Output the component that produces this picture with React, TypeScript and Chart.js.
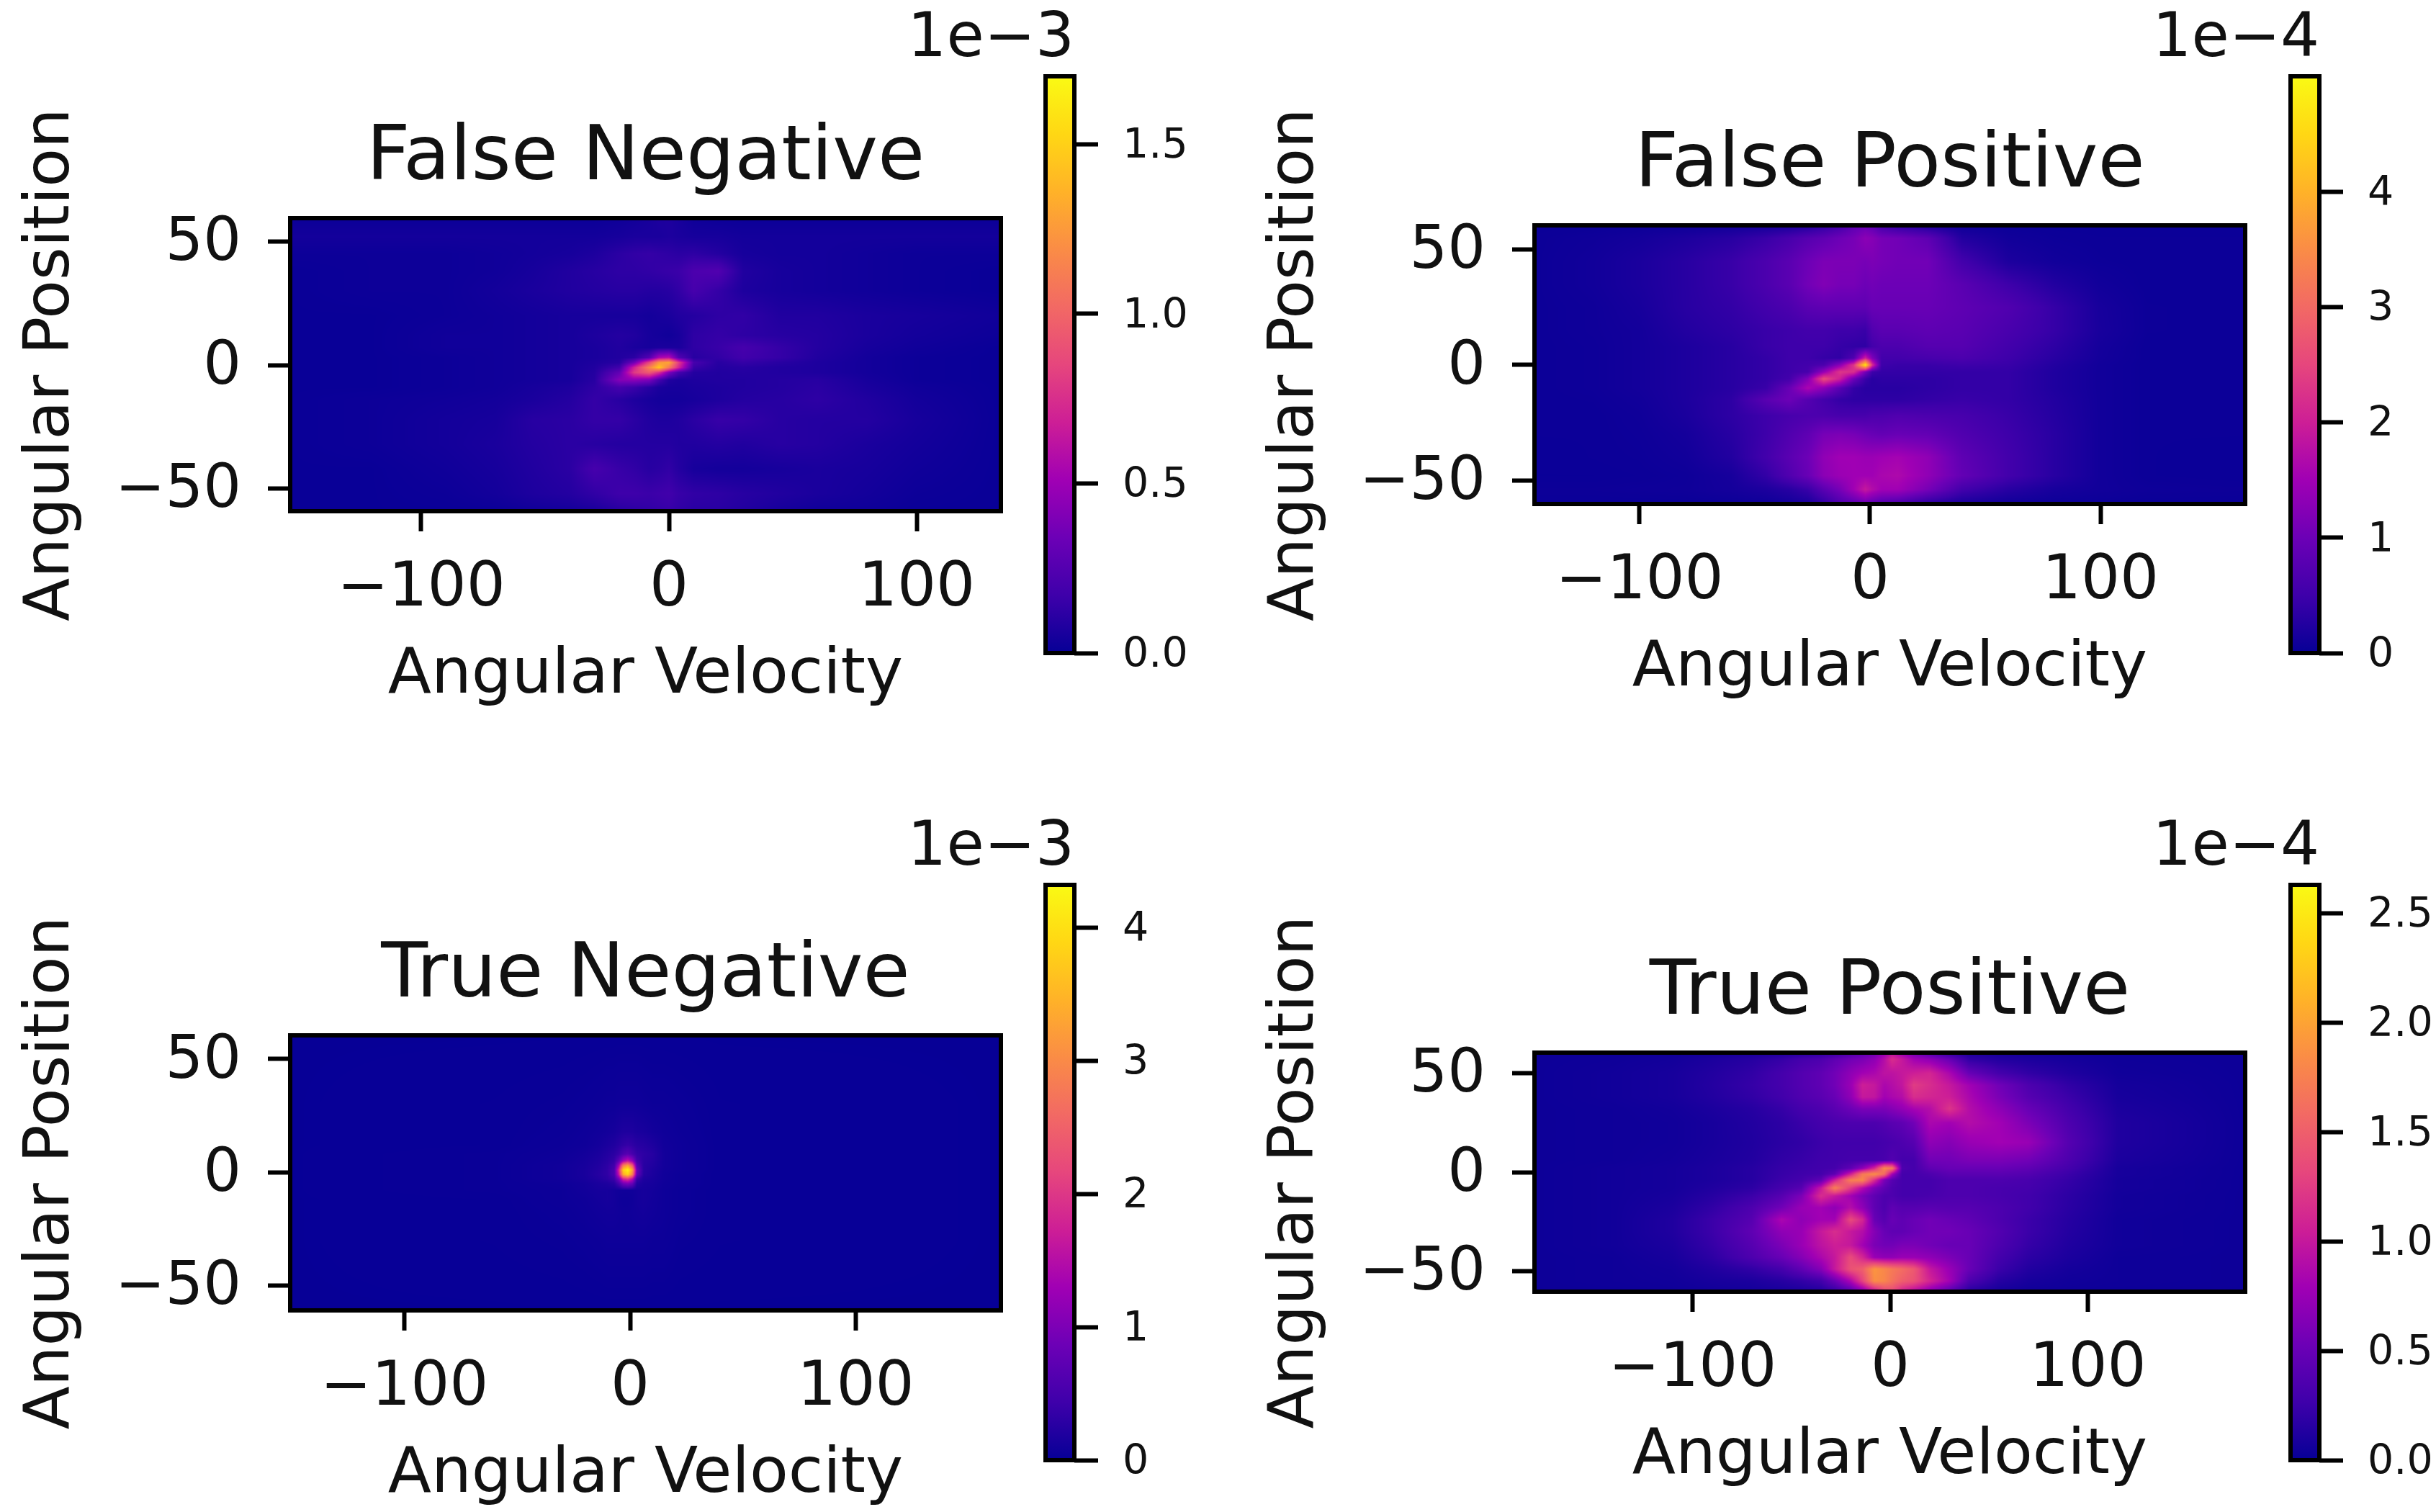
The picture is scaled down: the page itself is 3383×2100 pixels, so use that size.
import React, { useEffect, useRef } from "react";
import { Chart, registerables } from "chart.js";

Chart.register(...registerables);

const FONT = "DejaVu Sans";
const INK = "#111111";

// ---------- Colour scale stops (0..1 position, r, g, b) ----------
const COLOR_STOPS: number[][] = [
  [0.0, 6, 0, 150],
  [0.1, 62, 0, 170],
  [0.2, 108, 0, 182],
  [0.3, 160, 0, 180],
  [0.4, 205, 30, 150],
  [0.5, 230, 70, 125],
  [0.6, 242, 105, 100],
  [0.7, 250, 140, 70],
  [0.8, 255, 178, 40],
  [0.9, 255, 215, 20],
  [1.0, 250, 250, 20],
];

// ---------- False Negative (units of 1e-3) ----------
const fnX = [-154, -120, -90, -70, -55, -40, -30, -20, -14, -8, -4, 0, 4, 10, 20, 30, 45, 60, 80, 100, 135];
const fnY = [61, 52, 45, 38, 30, 20, 12, 7, 3, 1, -1, -3, -6, -9, -14, -22, -32, -42, -52, -61];
const fnValues = [
  [.01, .01, .01, .01, .01, .01, .01, .02, .03, .05, .07, .07, .05, .02, .01, .01, .01, .01, .01, .01, .01],
  [.04, .04, .04, .04, .04, .04, .04, .05, .06, .06, .06, .07, .06, .05, .05, .04, .04, .04, .04, .04, .04],
  [.02, .02, .02, .03, .04, .05, .07, .11, .13, .14, .13, .12, .11, .12, .09, .05, .04, .04, .03, .02, .02],
  [.01, .02, .02, .03, .05, .08, .1, .12, .12, .13, .14, .15, .16, .22, .24, .08, .05, .04, .03, .02, .01],
  [.01, .02, .02, .04, .06, .08, .09, .1, .1, .09, .09, .1, .13, .2, .14, .07, .05, .04, .03, .02, .01],
  [.01, .01, .02, .03, .04, .05, .05, .05, .05, .04, .05, .06, .08, .09, .12, .13, .08, .08, .06, .05, .03],
  [.01, .01, .03, .03, .04, .05, .07, .09, .08, .05, .04, .03, .05, .12, .14, .12, .1, .09, .06, .04, .02],
  [.01, .01, .03, .03, .04, .05, .06, .08, .06, .05, .06, .06, .06, .12, .15, .2, .14, .09, .05, .03, .01],
  [.01, .01, .02, .03, .04, .05, .06, .08, .11, .25, .55, .6, .25, .1, .13, .18, .14, .08, .04, .02, .01],
  [.01, .01, .02, .03, .04, .05, .07, .1, .35, .85, 1.25, 1.3, .8, .2, .1, .14, .1, .07, .04, .02, .01],
  [.01, .01, .02, .03, .04, .05, .08, .18, .7, 1.15, 1.45, 1.1, .7, .15, .09, .1, .08, .07, .04, .02, .01],
  [.01, .01, .02, .03, .04, .05, .09, .3, .8, .95, .75, .4, .2, .09, .08, .09, .08, .07, .04, .02, .01],
  [.01, .01, .02, .03, .04, .05, .1, .42, .45, .4, .2, .08, .06, .07, .08, .08, .09, .1, .05, .02, .01],
  [.01, .01, .02, .03, .05, .07, .12, .2, .16, .1, .06, .05, .05, .06, .07, .08, .09, .11, .06, .03, .01],
  [.01, .02, .03, .04, .06, .09, .14, .1, .07, .05, .04, .04, .04, .05, .07, .09, .1, .12, .08, .04, .01],
  [.01, .02, .04, .05, .1, .11, .14, .14, .11, .08, .07, .07, .08, .11, .15, .14, .1, .09, .09, .05, .01],
  [.01, .02, .04, .06, .09, .11, .1, .09, .09, .09, .09, .09, .08, .08, .09, .08, .1, .09, .06, .04, .01],
  [.01, .01, .03, .05, .08, .11, .2, .15, .13, .1, .11, .13, .09, .05, .04, .04, .05, .06, .05, .03, .01],
  [.01, .01, .02, .04, .07, .09, .13, .17, .17, .16, .17, .18, .15, .13, .12, .1, .08, .06, .04, .02, .01],
  [.01, .01, .01, .01, .02, .03, .04, .08, .1, .12, .13, .14, .12, .1, .1, .08, .04, .02, .02, .01, .01],
];
const fnMax = 1.7;
const fnBarTicks = [0, 0.5, 1, 1.5];

// ---------- False Positive (units of 1e-4) ----------
const fpX = [-147, -120, -100, -80, -60, -45, -35, -27, -20, -13, -7, -2, 1, 5, 12, 25, 40, 60, 80, 100, 120, 164];
const fpY = [61, 55, 45, 35, 25, 15, 8, 3, 0, -3, -6, -10, -15, -22, -30, -40, -48, -54, -61];
const fpValues = [
  [.04, .04, .05, .05, .06, .08, .1, .15, .3, .5, .8, .9, .8, .5, .3, .12, .05, .04, .04, .04, .04, .04],
  [.05, .08, .12, .2, .3, .45, .6, .75, .85, 1.0, 1.1, 1.3, 1.25, 1.1, 1.05, .85, .25, .1, .06, .05, .05, .05],
  [.05, .1, .18, .3, .45, .65, .8, 1.0, 1.15, 1.15, 1.15, 1.1, 1.15, 1.1, 1.05, 1.05, .55, .2, .1, .06, .05, .05],
  [.05, .1, .18, .3, .45, .65, .8, 1.05, 1.2, 1.1, 1.1, 1.0, 1.05, 1.0, 1.0, 1.0, .8, .5, .25, .1, .05, .05],
  [.05, .08, .15, .3, .4, .55, .65, .8, .85, .85, .85, .85, .95, .95, .95, .95, .85, .7, .42, .15, .06, .05],
  [.05, .08, .12, .25, .35, .45, .5, .55, .55, .5, .5, .45, .7, .8, .8, .85, .8, .62, .42, .16, .06, .05],
  [.05, .07, .12, .2, .3, .45, .5, .5, .5, .42, .38, .36, .55, .65, .65, .75, .75, .55, .35, .13, .05, .05],
  [.05, .07, .12, .2, .3, .4, .5, .5, .42, .38, .7, 2.0, 1.2, .55, .55, .6, .65, .5, .3, .12, .05, .05],
  [.05, .07, .12, .2, .3, .4, .5, .55, .65, 1.3, 2.3, 4.7, 2.2, .5, .45, .45, .5, .45, .25, .1, .05, .05],
  [.05, .07, .12, .2, .3, .4, .5, .6, 1.4, 2.3, 2.2, 1.1, .5, .4, .4, .4, .4, .4, .22, .1, .05, .05],
  [.05, .07, .12, .2, .3, .4, .55, 1.2, 2.6, 2.0, 1.0, .45, .3, .35, .35, .35, .4, .4, .22, .1, .05, .05],
  [.05, .07, .12, .2, .3, .45, .95, 1.6, 1.3, .8, .4, .3, .3, .3, .3, .35, .4, .4, .22, .1, .05, .05],
  [.05, .06, .1, .2, .35, .8, 1.0, .75, .55, .4, .35, .35, .35, .35, .35, .4, .45, .4, .25, .1, .05, .05],
  [.05, .05, .08, .18, .35, .5, .6, .65, .65, .6, .6, .6, .65, .65, .7, .65, .6, .45, .27, .1, .05, .05],
  [.05, .05, .07, .13, .3, .5, .7, .85, 1.1, 1.15, 1.1, 1.0, .95, .9, .95, .9, .7, .5, .3, .1, .05, .05],
  [.04, .05, .06, .1, .25, .55, .8, 1.0, 1.35, 1.5, 1.5, 1.45, 1.45, 1.5, 1.55, 1.35, .85, .55, .3, .1, .05, .04],
  [.04, .04, .05, .07, .15, .4, .7, .95, 1.3, 1.45, 1.5, 1.5, 1.5, 1.6, 1.65, 1.35, .9, .55, .3, .1, .05, .04],
  [.06, .06, .07, .08, .13, .2, .3, .45, .8, 1.1, 1.5, 1.9, 1.7, 1.5, 1.5, 1.1, .55, .3, .15, .1, .07, .06],
  [.03, .03, .03, .03, .04, .05, .08, .12, .3, .6, .7, .8, .7, .6, .5, .2, .1, .05, .04, .04, .03, .03],
];
const fpMax = 5.0;
const fpBarTicks = [0, 1, 2, 3, 4];

// ---------- True Negative (units of 1e-3) ----------
const tnX = [-152, -60, -30, -20, -14, -10, -7, -5, -3, -1, 1, 3, 6, 10, 15, 22, 40, 165];
const tnY = [61, 30, 18, 12, 8, 5, 3, 1, -1, -3, -5, -8, -12, -18, -30, -62];
const tnValues = [
  [.01, .01, .01, .01, .01, .01, .01, .01, .01, .01, .01, .01, .01, .01, .01, .01, .01, .01],
  [.01, .02, .03, .04, .05, .06, .06, .07, .07, .07, .07, .07, .06, .05, .05, .04, .02, .01],
  [.01, .02, .04, .06, .08, .1, .12, .15, .18, .18, .18, .15, .14, .1, .07, .05, .02, .01],
  [.01, .02, .05, .07, .11, .16, .2, .26, .32, .36, .32, .26, .24, .18, .09, .06, .02, .01],
  [.01, .03, .06, .1, .15, .22, .28, .38, .58, .68, .52, .36, .3, .24, .1, .06, .02, .01],
  [.01, .03, .07, .12, .18, .26, .36, .72, 1.3, 1.6, 1.2, .48, .28, .22, .1, .06, .02, .01],
  [.01, .03, .08, .13, .2, .3, .46, 1.3, 2.8, 3.2, 2.4, .68, .26, .2, .1, .06, .02, .01],
  [.01, .03, .08, .14, .22, .32, .54, 1.8, 3.8, 4.25, 3.3, .88, .26, .17, .09, .06, .02, .01],
  [.01, .03, .08, .14, .24, .32, .54, 1.6, 3.4, 3.8, 2.9, .78, .24, .16, .08, .05, .02, .01],
  [.01, .03, .08, .13, .2, .28, .4, .9, 1.8, 2.0, 1.5, .38, .18, .14, .08, .05, .02, .01],
  [.01, .03, .06, .1, .15, .18, .24, .5, .9, 1.0, .8, .22, .14, .12, .07, .05, .02, .01],
  [.01, .03, .05, .09, .12, .12, .1, .08, .08, .08, .08, .1, .12, .1, .06, .04, .02, .01],
  [.01, .02, .05, .07, .1, .12, .1, .07, .06, .06, .07, .1, .12, .09, .06, .04, .02, .01],
  [.01, .02, .04, .06, .08, .09, .09, .08, .07, .07, .08, .09, .1, .08, .06, .04, .02, .01],
  [.01, .02, .03, .04, .05, .06, .06, .06, .06, .06, .06, .06, .06, .05, .05, .03, .02, .01],
  [.01, .01, .01, .01, .01, .01, .01, .01, .01, .01, .01, .01, .01, .01, .01, .01, .01, .01],
];
const tnMax = 4.32;
const tnBarTicks = [0, 1, 2, 3, 4];

// ---------- True Positive (units of 1e-4) ----------
const tpX = [-181, -140, -110, -90, -70, -55, -45, -35, -28, -20, -14, -8, -3, 1, 6, 12, 20, 30, 40, 55, 70, 90, 115, 181];
const tpY = [61, 57, 50, 44, 38, 32, 25, 15, 6, 2, -1, -4, -8, -12, -18, -24, -30, -37, -43, -49, -55, -61];
const tpValues = [
  [.03, .03, .04, .05, .07, .08, .1, .13, .18, .3, .4, .5, .7, .9, .7, .5, .3, .12, .08, .06, .05, .04, .03, .03],
  [.03, .04, .06, .1, .15, .22, .3, .35, .45, .55, .6, .7, .9, 1.15, 1.0, .8, .7, .5, .2, .13, .1, .07, .04, .03],
  [.03, .05, .08, .13, .2, .3, .38, .45, .55, .7, .8, .85, .95, .95, 1.0, 1.05, 1.1, .85, .5, .3, .2, .12, .05, .03],
  [.03, .05, .08, .14, .22, .3, .38, .45, .55, .75, 1.05, 1.0, .85, .9, .98, 1.25, 1.15, 1.0, .8, .55, .35, .2, .07, .03],
  [.03, .05, .08, .13, .2, .28, .36, .42, .5, .7, 1.0, .98, .8, .85, .9, 1.15, 1.1, 1.05, .85, .6, .4, .25, .08, .03],
  [.03, .04, .06, .1, .15, .22, .3, .35, .42, .52, .6, .6, .6, .65, .72, .82, .9, 1.2, .9, .7, .5, .3, .1, .03],
  [.03, .04, .05, .08, .13, .18, .24, .3, .33, .35, .35, .35, .38, .42, .45, .55, .85, .8, .9, .8, .6, .35, .12, .03],
  [.03, .04, .05, .08, .12, .17, .2, .25, .28, .28, .28, .28, .3, .32, .35, .4, .7, .65, .75, .8, .75, .4, .12, .03],
  [.03, .04, .06, .09, .13, .2, .23, .27, .28, .3, .3, .3, .32, .38, .3, .3, .55, .55, .6, .6, .55, .35, .1, .03],
  [.03, .05, .07, .1, .15, .22, .25, .28, .3, .45, .7, 1.1, 1.8, 1.7, .35, .3, .45, .5, .5, .5, .45, .3, .08, .03],
  [.03, .05, .07, .1, .15, .23, .27, .3, .45, 1.05, 1.7, 1.85, 1.6, .8, .3, .3, .35, .42, .42, .42, .38, .25, .08, .03],
  [.03, .05, .07, .1, .15, .25, .3, .45, 1.05, 1.75, 1.8, 1.15, .6, .4, .3, .3, .3, .35, .35, .35, .32, .22, .07, .03],
  [.03, .05, .07, .12, .18, .3, .4, 1.0, 1.75, 1.25, .9, .6, .45, .35, .3, .3, .3, .35, .35, .32, .3, .2, .07, .03],
  [.03, .05, .08, .15, .25, .4, .6, 1.15, 1.0, .8, .6, .45, .35, .35, .3, .3, .32, .35, .35, .32, .28, .18, .06, .03],
  [.03, .05, .1, .2, .35, .55, .75, .8, .7, .9, .7, .45, .35, .45, .4, .4, .42, .4, .4, .35, .28, .17, .06, .03],
  [.03, .05, .12, .25, .4, .85, .7, .8, .8, 1.35, 1.1, .5, .4, .5, .45, .5, .55, .5, .45, .35, .25, .15, .05, .03],
  [.03, .05, .12, .25, .45, .7, .75, 1.0, 1.15, 1.0, .9, .65, .5, .45, .45, .5, .55, .55, .5, .38, .25, .14, .05, .03],
  [.03, .05, .1, .22, .4, .6, .75, .95, 1.05, 1.0, .8, .6, .55, .55, .6, .6, .55, .5, .5, .35, .22, .12, .05, .03],
  [.03, .04, .08, .18, .35, .5, .65, .85, 1.0, 1.35, 1.1, .75, .7, .7, .75, .75, .7, .6, .5, .3, .18, .1, .04, .03],
  [.03, .04, .06, .12, .2, .3, .45, .65, 1.0, 1.4, 1.5, 1.9, 1.8, 1.7, 1.6, 1.45, 1.0, .75, .5, .25, .13, .07, .04, .03],
  [.03, .04, .05, .08, .1, .15, .2, .28, .5, .85, 1.3, 1.85, 1.8, 1.65, 1.5, 1.4, 1.1, .8, .35, .15, .08, .05, .04, .03],
  [.03, .03, .04, .05, .06, .07, .08, .1, .15, .3, .5, .8, 1.2, 1.3, 1.0, .8, .6, .35, .12, .06, .04, .04, .03, .03],
];
const tpMax = 2.63;
const tpBarTicks = [0, 0.5, 1, 1.5, 2, 2.5];

const xTickValues = [-100, 0, 100];
const yTickValues = [-50, 0, 50];

// ---------- Layout (pixels) ----------
const PANELS = [
  { title: "False Negative", offset: "1e\u22123", xs: fnX, ys: fnY, values: fnValues, max: fnMax, barTicks: fnBarTicks, decimals: 1,
    xRange: [-152.9, 134], yRange: [-59.1, 59.4], box: [403, 1390, 303, 710], bar: [1452, 1492, 106, 907] },
  { title: "False Positive", offset: "1e\u22124", xs: fpX, ys: fpY, values: fpValues, max: fpMax, barTicks: fpBarTicks, decimals: 0,
    xRange: [-145.6, 162.8], yRange: [-60.3, 60.6], box: [2131, 3118, 313, 700], bar: [3181, 3221, 106, 907] },
  { title: "True Negative", offset: "1e\u22123", xs: tnX, ys: tnY, values: tnValues, max: tnMax, barTicks: tnBarTicks, decimals: 0,
    xRange: [-150.6, 164.3], yRange: [-61.1, 60.5], box: [403, 1390, 1438, 1820], bar: [1452, 1492, 1229, 2028] },
  { title: "True Positive", offset: "1e\u22124", xs: tpX, ys: tpY, values: tpValues, max: tpMax, barTicks: tpBarTicks, decimals: 1,
    xRange: [-180, 179.6], yRange: [-60.4, 60.4], box: [2131, 3118, 1462, 1794], bar: [3181, 3221, 1229, 2028] },
];

const LEFT_GUTTER = 403;
const BOTTOM_GUTTER = 282;
const TITLE_BLOCK = 145;
const EXTRA_TOP = 140;
const RIGHT_PAD = 30;
const LINE = 6;

function lut(t: number): number[] {
  const c = Math.max(0, Math.min(1, t));
  for (let i = 1; i < COLOR_STOPS.length; i++) {
    if (c <= COLOR_STOPS[i][0]) {
      const a = COLOR_STOPS[i - 1];
      const b = COLOR_STOPS[i];
      const f = (c - a[0]) / (b[0] - a[0]);
      return [a[1] + (b[1] - a[1]) * f, a[2] + (b[2] - a[2]) * f, a[3] + (b[3] - a[3]) * f];
    }
  }
  return COLOR_STOPS[COLOR_STOPS.length - 1].slice(1);
}

const signed = (v: number) => String(v).replace("-", "\u2212");

const framePlugin = {
  id: "frame",
  afterDraw(chart: any) {
    const { ctx, chartArea: a } = chart;
    ctx.save();
    ctx.strokeStyle = "#000";
    ctx.lineWidth = LINE;
    ctx.strokeRect(a.left, a.top, a.right - a.left, a.bottom - a.top);
    ctx.restore();
  },
};

// Moves the y axis tick labels a few pixels down, so the digits sit centred on their ticks.
const labelNudgePlugin = {
  id: "labelNudge",
  beforeDraw(chart: any) {
    chart.scales.y.getLabelItems().forEach((item: any) => {
      if (!item.nudged) {
        item.textOffset += 4;
        item.nudged = true;
      }
    });
  },
};

// Paints the dataset's cells, placed by the chart's x and y scales, blending between cell centres.
function heatmapPlugin(xs: number[], ys: number[], values: number[][], max: number) {
  const locate = (v: number, arr: number[]) => {
    let i = 0;
    while (i < arr.length - 2 && v > arr[i + 1]) i++;
    const f = (v - arr[i]) / (arr[i + 1] - arr[i]);
    return [i, Math.max(0, Math.min(1, f))];
  };
  const yAsc = ys.slice().reverse();
  return {
    id: "heatmap",
    beforeDatasetsDraw(chart: any) {
      const { ctx, chartArea: a, scales } = chart;
      const left = Math.floor(a.left);
      const top = Math.floor(a.top);
      const w = Math.ceil(a.right) - left;
      const h = Math.ceil(a.bottom) - top;
      const off = document.createElement("canvas");
      off.width = w;
      off.height = h;
      const octx = off.getContext("2d")!;
      const img = octx.createImageData(w, h);
      const colPos = [];
      for (let px = 0; px < w; px++) colPos.push(locate(scales.x.getValueForPixel(left + px + 0.5), xs));
      const rowPos = [];
      for (let py = 0; py < h; py++) {
        const [i, f] = locate(scales.y.getValueForPixel(top + py + 0.5), yAsc);
        rowPos.push([ys.length - 1 - i, f]);
      }
      let k = 0;
      for (let py = 0; py < h; py++) {
        const [r0, fy] = rowPos[py];
        const low = values[r0];
        const high = values[r0 - 1];
        for (let px = 0; px < w; px++) {
          const [c, fx] = colPos[px];
          const vLow = low[c] + (low[c + 1] - low[c]) * fx;
          const vHigh = high[c] + (high[c + 1] - high[c]) * fx;
          const rgb = lut((vLow + (vHigh - vLow) * fy) / max);
          img.data[k++] = rgb[0];
          img.data[k++] = rgb[1];
          img.data[k++] = rgb[2];
          img.data[k++] = 255;
        }
      }
      octx.putImageData(img, 0, 0);
      ctx.drawImage(off, left, top);
    },
  };
}

// The colour bar's scale-offset text sits above the bar, ending at its right edge.
const offsetTextPlugin = {
  id: "offsetText",
  afterDraw(chart: any, _args: any, opts: any) {
    const { ctx, chartArea: a } = chart;
    ctx.save();
    ctx.fillStyle = INK;
    ctx.font = `85px "${FONT}"`;
    ctx.textAlign = "right";
    ctx.textBaseline = "middle";
    ctx.fillText(opts.text, a.right, a.top - 50);
    ctx.restore();
  },
};

function tickSetup(length: number) {
  return { display: true, drawOnChartArea: false, drawTicks: true, tickLength: length, tickWidth: LINE, tickColor: "#000" };
}

function HeatPanel({ p }: { p: (typeof PANELS)[number] }) {
  const ref = useRef<HTMLCanvasElement>(null);
  const [L, R, T, B] = p.box;
  const left = L - LEFT_GUTTER;
  const top = T - TITLE_BLOCK - EXTRA_TOP;
  const width = R + RIGHT_PAD - left;
  const height = B + BOTTOM_GUTTER - top;
  useEffect(() => {
    const points: { x: number; y: number; v: number }[] = [];
    p.ys.forEach((y, r) => p.xs.forEach((x, c) => points.push({ x, y, v: p.values[r][c] })));
    const chart = new Chart(ref.current!, {
      type: "scatter",
      data: { datasets: [{ label: p.title, data: points, pointRadius: 0, showLine: false }] },
      plugins: [heatmapPlugin(p.xs, p.ys, p.values, p.max), framePlugin, labelNudgePlugin],
      options: {
        animation: false,
        responsive: false,
        devicePixelRatio: 1,
        layout: { padding: { right: RIGHT_PAD, left: 0, top: EXTRA_TOP, bottom: 0 } },
        plugins: {
          legend: { display: false },
          tooltip: { enabled: false },
          title: {
            display: true,
            text: p.title,
            fullSize: false,
            color: INK,
            font: { family: FONT, size: 106, weight: "normal", lineHeight: 1.2 },
            padding: { top: 0, bottom: TITLE_BLOCK - 127.2 },
          },
        },
        scales: {
          x: {
            type: "linear",
            min: p.xRange[0],
            max: p.xRange[1],
            grid: tickSetup(28),
            border: { display: false },
            afterBuildTicks: (axis: any) => { axis.ticks = xTickValues.map((value) => ({ value })); },
            afterFit: (s: any) => { s.height = BOTTOM_GUTTER; s.paddingLeft = 0; s.paddingRight = 0; },
            ticks: {
              autoSkip: false, maxRotation: 0, color: INK, padding: 30,
              font: { family: FONT, size: 85 },
              callback: (v: any) => signed(v),
            },
            title: { display: true, text: "Angular Velocity", color: INK, padding: 0, font: { family: FONT, size: 88, lineHeight: 1.2 } },
          },
          y: {
            type: "linear",
            min: p.yRange[0],
            max: p.yRange[1],
            grid: tickSetup(31),
            border: { display: false },
            afterBuildTicks: (axis: any) => { axis.ticks = yTickValues.map((value) => ({ value })); },
            afterFit: (s: any) => { s.width = LEFT_GUTTER; s.paddingTop = 0; s.paddingBottom = 0; },
            ticks: {
              autoSkip: false, color: INK, padding: 37,
              font: { family: FONT, size: 83 },
              callback: (v: any) => signed(v),
            },
            title: { display: true, text: "Angular Position", color: INK, padding: { top: 19, bottom: 0 }, font: { family: FONT, size: 88, lineHeight: 1.2 } },
          },
        },
      },
    } as any);
    return () => chart.destroy();
  }, []);
  return <canvas ref={ref} width={width} height={height} style={{ position: "absolute", left, top, width, height }} />;
}

function BarPanel({ p }: { p: (typeof PANELS)[number] }) {
  const ref = useRef<HTMLCanvasElement>(null);
  const [bL, bR, bT, bB] = p.bar;
  const padL = 240;
  const padT = 106;
  const padB = 40;
  const axisW = 162;
  const left = bL - padL;
  const top = bT - padT;
  const width = bR - bL + padL + axisW;
  const height = bB - bT + padT + padB;
  useEffect(() => {
    const chart = new Chart(ref.current!, {
      type: "bar",
      data: {
        labels: [""],
        datasets: [{
          label: p.offset,
          data: [[0, p.max]],
          borderWidth: 0,
          barPercentage: 1,
          categoryPercentage: 1,
          backgroundColor: (c: any) => {
            const area = c.chart.chartArea;
            if (!area) return "#000";
            const g = c.chart.ctx.createLinearGradient(0, area.bottom, 0, area.top);
            COLOR_STOPS.forEach((s) => g.addColorStop(s[0], `rgb(${s[1]},${s[2]},${s[3]})`));
            return g;
          },
        }],
      },
      plugins: [framePlugin, offsetTextPlugin, labelNudgePlugin],
      options: {
        animation: false,
        responsive: false,
        devicePixelRatio: 1,
        layout: { padding: { left: padL, top: padT, bottom: padB, right: 0 } },
        plugins: {
          legend: { display: false },
          tooltip: { enabled: false },
          offsetText: { text: p.offset },
        },
        scales: {
          x: { type: "category", display: false },
          y: {
            type: "linear",
            position: "right",
            min: 0,
            max: p.max,
            grid: tickSetup(33),
            border: { display: false },
            afterBuildTicks: (axis: any) => { axis.ticks = p.barTicks.map((value) => ({ value })); },
            afterFit: (s: any) => { s.width = axisW; s.paddingTop = 0; s.paddingBottom = 0; },
            ticks: {
              autoSkip: false, color: INK, padding: 34,
              font: { family: FONT, size: 57 },
              callback: (v: any) => Number(v).toFixed(p.decimals),
            },
          },
        },
      },
    } as any);
    return () => chart.destroy();
  }, []);
  return <canvas ref={ref} width={width} height={height} style={{ position: "absolute", left, top, width, height }} />;
}

export default function App() {
  return (
    <div style={{ position: "absolute", left: 0, top: 0, width: 3383, height: 2100, overflow: "hidden", background: "#fff" }}>
      {PANELS.map((p) => (
        <React.Fragment key={p.title}>
          <HeatPanel p={p} />
          <BarPanel p={p} />
        </React.Fragment>
      ))}
    </div>
  );
}
